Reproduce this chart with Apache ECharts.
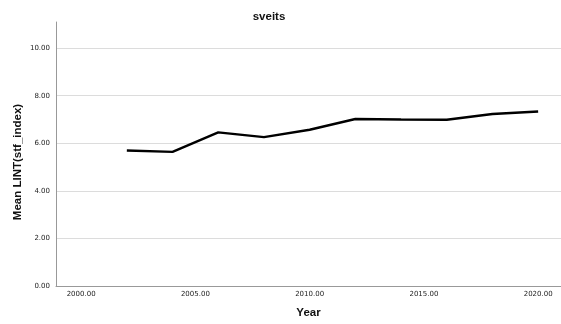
<!DOCTYPE html>
<html><head><meta charset="utf-8">
<script src="https://cdn.jsdelivr.net/npm/echarts@6/dist/echarts.min.js"></script>
<style>html,body{margin:0;padding:0;background:#fff}#c{width:561px;height:324px}</style>
</head><body><div id="c"></div>
<script>
const years = [2002, 2004, 2006, 2008, 2010, 2012, 2014, 2016, 2018, 2020];
const values = [5.70, 5.64, 6.46, 6.26, 6.57, 7.02, 7.00, 6.99, 7.23, 7.34];
const xTicks = [2000, 2005, 2010, 2015, 2020];
const yTicks = [0, 2, 4, 6, 8, 10];
const title = 'sveits';
const xName = 'Year';
const yName = 'Mean LINT(stf_index)';

const chart = echarts.init(document.getElementById('c'));
const font = 'DejaVu Sans';
const bold = 'Liberation Sans';
chart.setOption({
  animation: false,
  title: { text: title, left: 264, top: 6, textAlign: 'center',
    textStyle: { fontFamily: bold, fontSize: 11.5, fontWeight: 'bold', color: '#111' } },
  grid: { left: 56, right: 0, top: 22, bottom: 38 },
  xAxis: {
    type: 'value', min: 1998.9, max: 2021,
    name: xName, nameLocation: 'middle', nameGap: 21,
    nameTextStyle: { fontFamily: bold, fontSize: 11.5, fontWeight: 'bold', color: '#111' },
    axisLine: { show: true, lineStyle: { color: '#999', width: 1 } },
    axisTick: { show: false, customValues: xTicks },
    splitLine: { show: false },
    axisLabel: { customValues: xTicks, margin: 5, fontFamily: font, fontSize: 7, color: '#222',
      formatter: v => v.toFixed(2) }
  },
  yAxis: {
    type: 'value', min: 0, max: 11.1,
    name: yName, nameLocation: 'middle', nameGap: 32, nameRotate: 90, nameMoveOverlap: false,
    nameTextStyle: { fontFamily: bold, fontSize: 11.5, fontWeight: 'bold', color: '#111',
      padding: [0, 16, 0, 0] },
    axisLine: { show: true, lineStyle: { color: '#999', width: 1 } },
    axisTick: { show: false, customValues: yTicks },
    splitLine: { show: true, customValues: yTicks, lineStyle: { color: '#dcdcdc', width: 1 } },
    axisLabel: { customValues: yTicks, margin: 6, fontFamily: font, fontSize: 7, color: '#222',
      formatter: v => v.toFixed(2) }
  },
  series: [{
    type: 'line', data: years.map((y, i) => [y, values[i]]),
    symbol: 'none', lineStyle: { color: '#000', width: 2.4 }
  }]
});
</script></body></html>
